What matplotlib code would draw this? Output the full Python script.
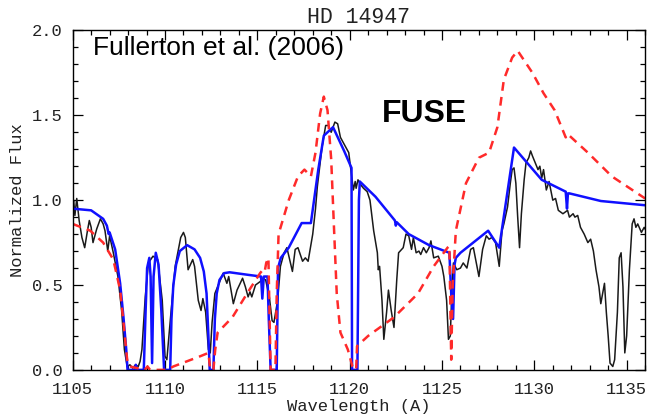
import matplotlib
matplotlib.use("Agg")
import matplotlib.pyplot as plt
from matplotlib.ticker import MultipleLocator

# observed FUSE spectrum (black)
obs_wave = [1105.0, 1105.05, 1105.12, 1105.22, 1105.35, 1105.5, 1105.65, 1105.8, 1105.9, 1106.0,
            1106.1, 1106.3, 1106.5, 1106.65, 1106.75, 1106.9, 1107.0, 1107.2, 1107.45, 1107.65,
            1107.8, 1107.95, 1108.1, 1108.25, 1108.4, 1108.55, 1108.65, 1108.75, 1108.93, 1109.1,
            1109.35, 1109.6, 1109.85, 1110.0, 1110.1, 1110.3, 1110.55, 1110.85, 1111.0, 1111.1,
            1111.25, 1111.5, 1111.6, 1111.8, 1111.95, 1112.05, 1112.2, 1112.35, 1112.45, 1112.55,
            1112.7, 1113.0, 1113.15, 1113.35, 1113.45, 1113.7, 1113.9, 1114.2, 1114.35, 1114.5,
            1114.6, 1114.7, 1114.9, 1115.15, 1115.3, 1115.45, 1115.65, 1115.8, 1115.9, 1116.1,
            1116.25, 1116.45, 1116.6, 1116.9, 1117.05, 1117.2, 1117.45, 1117.6, 1117.75, 1118.0,
            1118.15, 1118.25, 1118.5, 1118.7, 1118.85, 1119.0, 1119.2, 1119.35, 1119.5, 1119.8,
            1119.95, 1120.05, 1120.2, 1120.3, 1120.35, 1120.45, 1120.6, 1120.75, 1120.95, 1121.1,
            1121.3, 1121.5, 1121.55, 1121.62, 1121.75, 1121.85, 1122.0, 1122.1, 1122.25, 1122.4,
            1122.55, 1122.65, 1122.9, 1123.05, 1123.2, 1123.35, 1123.45, 1123.6, 1123.75, 1123.85,
            1124.0, 1124.15, 1124.3, 1124.4, 1124.55, 1124.8, 1125.0, 1125.1, 1125.25, 1125.35,
            1125.45, 1125.55, 1125.62, 1125.8, 1126.0, 1126.15, 1126.35, 1126.55, 1126.7, 1127.0,
            1127.2, 1127.4, 1127.55, 1127.7, 1127.9, 1128.1, 1128.25, 1128.35, 1128.55, 1128.7,
            1128.8, 1128.9, 1129.0, 1129.1, 1129.2, 1129.3, 1129.45, 1129.55, 1129.7, 1129.8,
            1129.9, 1130.05, 1130.2, 1130.3, 1130.4, 1130.5, 1130.65, 1130.8, 1131.0, 1131.15,
            1131.3, 1131.55, 1131.8, 1131.9, 1132.1, 1132.2, 1132.35, 1132.5, 1132.7, 1132.9,
            1133.05, 1133.2, 1133.34, 1133.5, 1133.6, 1133.8, 1133.9, 1134.0, 1134.1, 1134.25,
            1134.35, 1134.5, 1134.6, 1134.7, 1134.8, 1134.9, 1135.0, 1135.15, 1135.3, 1135.4,
            1135.5, 1135.6, 1135.8, 1135.95, 1136.05]
obs_flux = [0.97, 1.0, 0.91, 1.01, 0.88, 0.78, 0.72, 0.82, 0.88, 0.84,
            0.75, 0.83, 0.89, 0.86, 0.82, 0.70, 0.79, 0.69, 0.55, 0.35,
            0.12, 0.02, 0.03, 0.01, 0.03, 0.02, 0.05, 0.12, 0.43, 0.63,
            0.67, 0.65, 0.41, 0.08, 0.06, 0.31, 0.61, 0.78, 0.81, 0.78,
            0.59, 0.65, 0.61, 0.41, 0.35, 0.42, 0.34, 0.12, 0.10, 0.28,
            0.45, 0.53, 0.57, 0.51, 0.55, 0.39, 0.47, 0.54, 0.49, 0.43,
            0.46, 0.43, 0.50, 0.52, 0.54, 0.53, 0.43, 0.29, 0.28, 0.41,
            0.61, 0.69, 0.72, 0.58, 0.71, 0.72, 0.64, 0.66, 0.64, 0.80,
            0.95, 1.08, 1.31, 1.44, 1.44, 1.40, 1.46, 1.45, 1.37, 1.31,
            1.28, 1.19, 1.06, 1.11, 1.07, 1.12, 1.09, 1.07, 1.05, 1.00,
            0.82, 0.69, 0.59, 0.61, 0.41, 0.18, 0.34, 0.47, 0.35, 0.25,
            0.53, 0.69, 0.72, 0.80, 0.79, 0.71, 0.78, 0.69, 0.70, 0.68,
            0.72, 0.69, 0.72, 0.76, 0.66, 0.67, 0.61, 0.55, 0.41, 0.18,
            0.20, 0.51, 0.63, 0.59, 0.60, 0.63, 0.60, 0.71, 0.72, 0.55,
            0.71, 0.79, 0.77, 0.78, 0.75, 0.61, 0.82, 0.86, 0.96, 1.10,
            1.18, 1.19, 1.10, 0.90, 0.72, 0.92, 1.12, 1.22, 1.25, 1.29,
            1.26, 1.22, 1.18, 1.20, 1.13, 1.18, 1.06, 1.11, 1.00, 1.01,
            0.94, 0.92, 0.94, 0.90, 0.92, 0.90, 0.91, 0.84, 0.80, 0.75,
            0.77, 0.70, 0.59, 0.49, 0.39, 0.51, 0.34, 0.20, 0.04, 0.02,
            0.06, 0.34, 0.66, 0.69, 0.49, 0.10, 0.20, 0.59, 0.86, 0.89,
            0.84, 0.86, 0.81, 0.84, 0.82]

# model 1 (blue solid)
blue_wave = [1105.0, 1106.0, 1106.65, 1106.85, 1106.95, 1107.0, 1107.15, 1107.3, 1107.57, 1107.75,
             1107.9, 1107.97, 1108.35, 1108.42, 1108.5, 1108.85, 1108.95, 1109.03, 1109.15, 1109.22,
             1109.3, 1109.38, 1109.5, 1109.65, 1109.8, 1109.95, 1110.28, 1110.35, 1110.45, 1110.6,
             1110.8, 1111.2, 1111.6, 1111.9, 1112.1, 1112.25, 1112.35, 1112.42, 1112.62, 1112.7,
             1112.8, 1112.95, 1113.2, 1113.5, 1114.5, 1115.2, 1115.27, 1115.35, 1115.55, 1115.62,
             1115.72, 1116.05, 1116.12, 1116.27, 1116.7, 1117.4, 1117.9, 1118.3, 1118.6, 1119.1,
             1119.7, 1120.1, 1120.13, 1120.42, 1120.5, 1120.55, 1121.4, 1122.45, 1122.5, 1122.55,
             1123.2, 1124.3, 1125.4, 1125.5, 1125.6, 1125.68, 1125.75, 1126.0, 1127.5, 1128.1,
             1128.9, 1130.4, 1131.7, 1131.77, 1131.82, 1131.9, 1133.6, 1136.0]
blue_flux = [0.95, 0.94, 0.89, 0.85, 0.80, 0.81, 0.76, 0.71, 0.51, 0.31,
             0.12, 0.0, 0.0, 0.03, 0.0, 0.0, 0.35, 0.60, 0.66, 0.55,
             0.04, 0.55, 0.69, 0.62, 0.35, 0.0, 0.0, 0.30, 0.50, 0.62,
             0.70, 0.735, 0.71, 0.66, 0.58, 0.45, 0.20, 0.0, 0.0, 0.30,
             0.45, 0.53, 0.57, 0.575, 0.56, 0.55, 0.42, 0.55, 0.55, 0.30,
             0.0, 0.0, 0.60, 0.66, 0.72, 0.865, 0.865, 1.18, 1.38, 1.43,
             1.29, 1.19, 0.0, 0.0, 1.0, 1.11, 1.02, 0.88, 0.85, 0.87,
             0.80, 0.735, 0.69, 0.45, 0.30, 0.62, 0.66, 0.69, 0.82, 0.72,
             1.31, 1.12, 1.05, 0.95, 1.04, 1.04, 0.995, 0.97]

# model 2 (red dashed)
red_wave = [1105.0, 1105.95, 1106.65, 1107.2, 1107.57, 1107.75, 1107.95, 1108.1, 1108.9, 1109.05,
            1109.2, 1110.1, 1110.45, 1111.9, 1112.35, 1112.45, 1112.62, 1112.72, 1112.85, 1113.65,
            1114.5, 1115.15, 1115.3, 1115.4, 1115.48, 1115.6, 1115.72, 1115.98, 1116.05, 1116.15,
            1116.7, 1117.2, 1117.55, 1117.9, 1118.15, 1118.4, 1118.6, 1118.8, 1119.0, 1119.15,
            1119.3, 1119.5, 1119.9, 1120.15, 1120.35, 1120.4, 1121.0, 1122.4, 1123.7, 1124.55,
            1125.3, 1125.4, 1125.5, 1125.58, 1125.75, 1126.3, 1127.0, 1127.55, 1128.0, 1128.35,
            1128.8, 1129.1, 1129.9, 1130.5, 1131.1, 1131.7, 1131.8, 1132.9, 1134.2, 1136.0]
red_flux = [0.86, 0.82, 0.75, 0.65, 0.47, 0.28, 0.06, 0.02, 0.0, 0.02,
            0.0, 0.0, 0.02, 0.08, 0.10, 0.0, 0.0, 0.12, 0.22, 0.31,
            0.46, 0.57, 0.59, 0.58, 0.63, 0.66, 0.0, 0.0, 0.45, 0.80,
            1.0, 1.14, 1.18, 1.14, 1.28, 1.51, 1.61, 1.53, 1.24, 0.84,
            0.45, 0.22, 0.12, 0.02, 0.0, 0.14, 0.20, 0.31, 0.45, 0.61,
            0.72, 0.73, 0.06, 0.50, 0.82, 1.10, 1.25, 1.28, 1.43, 1.71,
            1.84, 1.88, 1.75, 1.63, 1.53, 1.37, 1.39, 1.28, 1.14, 1.01]

idl = "Liberation Mono"

fig = plt.figure(figsize=(6.49, 4.17), dpi=100)
ax = fig.add_axes([0.112, 0.113, 0.882, 0.814])

ax.plot(obs_wave, obs_flux, color="#1a1a1a", lw=1.1)
ax.plot(blue_wave, blue_flux, color="#1010ff", lw=1.8)
ax.plot(red_wave, red_flux, color="#ff2a2a", lw=1.8, dashes=(3.5, 2.5))

ax.set_xlim(1105, 1136)
ax.set_ylim(0, 2.0)
ax.xaxis.set_major_locator(MultipleLocator(5))
ax.xaxis.set_minor_locator(MultipleLocator(1))
ax.yaxis.set_major_locator(MultipleLocator(0.5))
ax.yaxis.set_minor_locator(MultipleLocator(0.1))
ax.tick_params(which="both", direction="in", top=True, right=True, width=0.9)
ax.tick_params(which="major", length=7, pad=7)
ax.tick_params(axis="x", which="major", pad=9)
ax.tick_params(which="minor", length=3.5)
for lab in ax.get_xticklabels() + ax.get_yticklabels():
    lab.set_family(idl)
    lab.set_fontsize(12.3)
    lab.set_color("#222222")
for s in ax.spines.values():
    s.set_linewidth(1.0)

ax.set_title("HD 14947", family=idl, fontsize=15.5, pad=5, color="#222222")
ax.set_xlabel("Wavelength (A)", family=idl, fontsize=12.3, labelpad=1, color="#222222")
ax.set_ylabel("Normalized Flux", family=idl, fontsize=12.3, labelpad=5, color="#222222")

ax.text(0.036, 0.985, "Fullerton et al. (2006)", transform=ax.transAxes,
        family="Liberation Sans", fontsize=19, va="top", ha="left")
ax.text(0.615, 0.755, "FUSE", transform=ax.transAxes,
        family="Liberation Sans", fontsize=23, fontweight="bold", va="center", ha="center")

fig.savefig("out.png", dpi=100)
